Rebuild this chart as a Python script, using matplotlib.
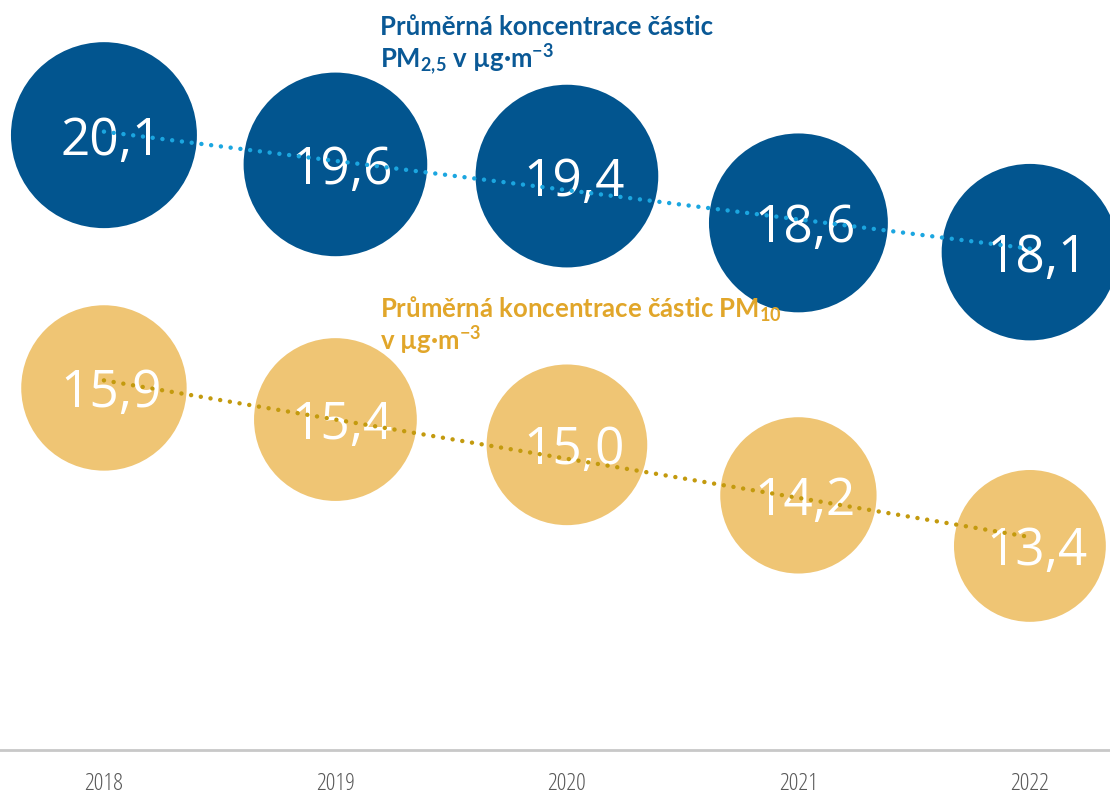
import numpy as np
import matplotlib
matplotlib.use("Agg")
import matplotlib.pyplot as plt
from matplotlib import font_manager as fm

years = ["2018", "2019", "2020", "2021", "2022"]
pm25 = [20.1, 19.6, 19.4, 18.6, 18.1]
pm10 = [15.9, 15.4, 15.0, 14.2, 13.4]
pm25_labels = ["20,1", "19,6", "19,4", "18,6", "18,1"]
pm10_labels = ["15,9", "15,4", "15,0", "14,2", "13,4"]

BLUE = "#02558F"
BLUE_TITLE = "#0A5996"
BLUE_TREND = "#1BA6E0"
GOLD = "#EFC574"
GOLD_TITLE = "#E1A62A"
GOLD_TREND = "#C39A0E"

names = {f.name for f in fm.fontManager.ttflist}
TITLE_FONT = "Lato" if "Lato" in names else "DejaVu Sans"
plt.rcParams["font.family"] = ["Open Sans", "DejaVu Sans"]
plt.rcParams["mathtext.fontset"] = "custom"
plt.rcParams["mathtext.rm"] = TITLE_FONT + ":bold"
plt.rcParams["mathtext.it"] = TITLE_FONT + ":bold"
plt.rcParams["mathtext.bf"] = TITLE_FONT + ":bold"

fig = plt.figure(figsize=(11.1, 8.0), dpi=100)
ax1 = fig.add_axes([0, 50 / 800, 1, 750 / 800])
ax2 = ax1.twinx()

x = np.arange(len(years))
K = 892  # bubble area per unit value (points^2)

def draw(ax, vals, labels, color, trend_color):
    ax.scatter(x, vals, s=np.array(vals) * K, color=color, edgecolors="none",
               zorder=2, clip_on=False)
    for xi, v, lab in zip(x, vals, labels):
        ax.text(xi + 0.03, v, lab, color="white", fontsize=37, ha="center",
                va="center_baseline", zorder=3)
    p = np.polyfit(x, vals, 1)
    xt = np.array([x[0], x[-1]])
    ax.plot(xt, np.polyval(p, xt), linestyle=(0, (0.01, 2.2)), color=trend_color,
            lw=3.2, dash_capstyle="round", solid_capstyle="round", zorder=4)

draw(ax1, pm25, pm25_labels, BLUE, BLUE_TREND)
draw(ax2, pm10, pm10_labels, GOLD, GOLD_TREND)

for ax in (ax1, ax2):
    ax.set_xlim(-0.449, 4.346)
    for s in ("top", "left", "right"):
        ax.spines[s].set_visible(False)
    ax.set_yticks([])
    ax.patch.set_visible(False)
ax1.set_ylim(9.59, 22.41)
ax2.set_ylim(10.17, 22.04)
ax2.spines["bottom"].set_visible(False)
ax1.spines["bottom"].set_color("#C8C8C8")
ax1.spines["bottom"].set_linewidth(2)
ax1.set_xticks(x)
ax1.set_xticklabels(years, fontsize=17.5, color="#595959", fontstretch="condensed")
ax1.tick_params(axis="x", length=0, pad=16)
ax2.tick_params(axis="x", length=0, labelbottom=False, labeltop=False)

def fy(py):
    return 1 - py / 800

tkw = dict(fontsize=18.5, fontweight="bold", family=TITLE_FONT, va="baseline",
           ha="left", zorder=10)
fig.text(380 / 1110, fy(35), "Průměrná koncentrace částic", color=BLUE_TITLE, **tkw)
fig.text(380 / 1110, fy(68), r"PM$_{2{,}5}$ v µg·m$^{-3}$", color=BLUE_TITLE, **tkw)
fig.text(380 / 1110, fy(318), r"Průměrná koncentrace částic PM$_{10}$", color=GOLD_TITLE, **tkw)
fig.text(380 / 1110, fy(350), r"v µg·m$^{-3}$", color=GOLD_TITLE, **tkw)

fig.savefig("out.png", dpi=100)
